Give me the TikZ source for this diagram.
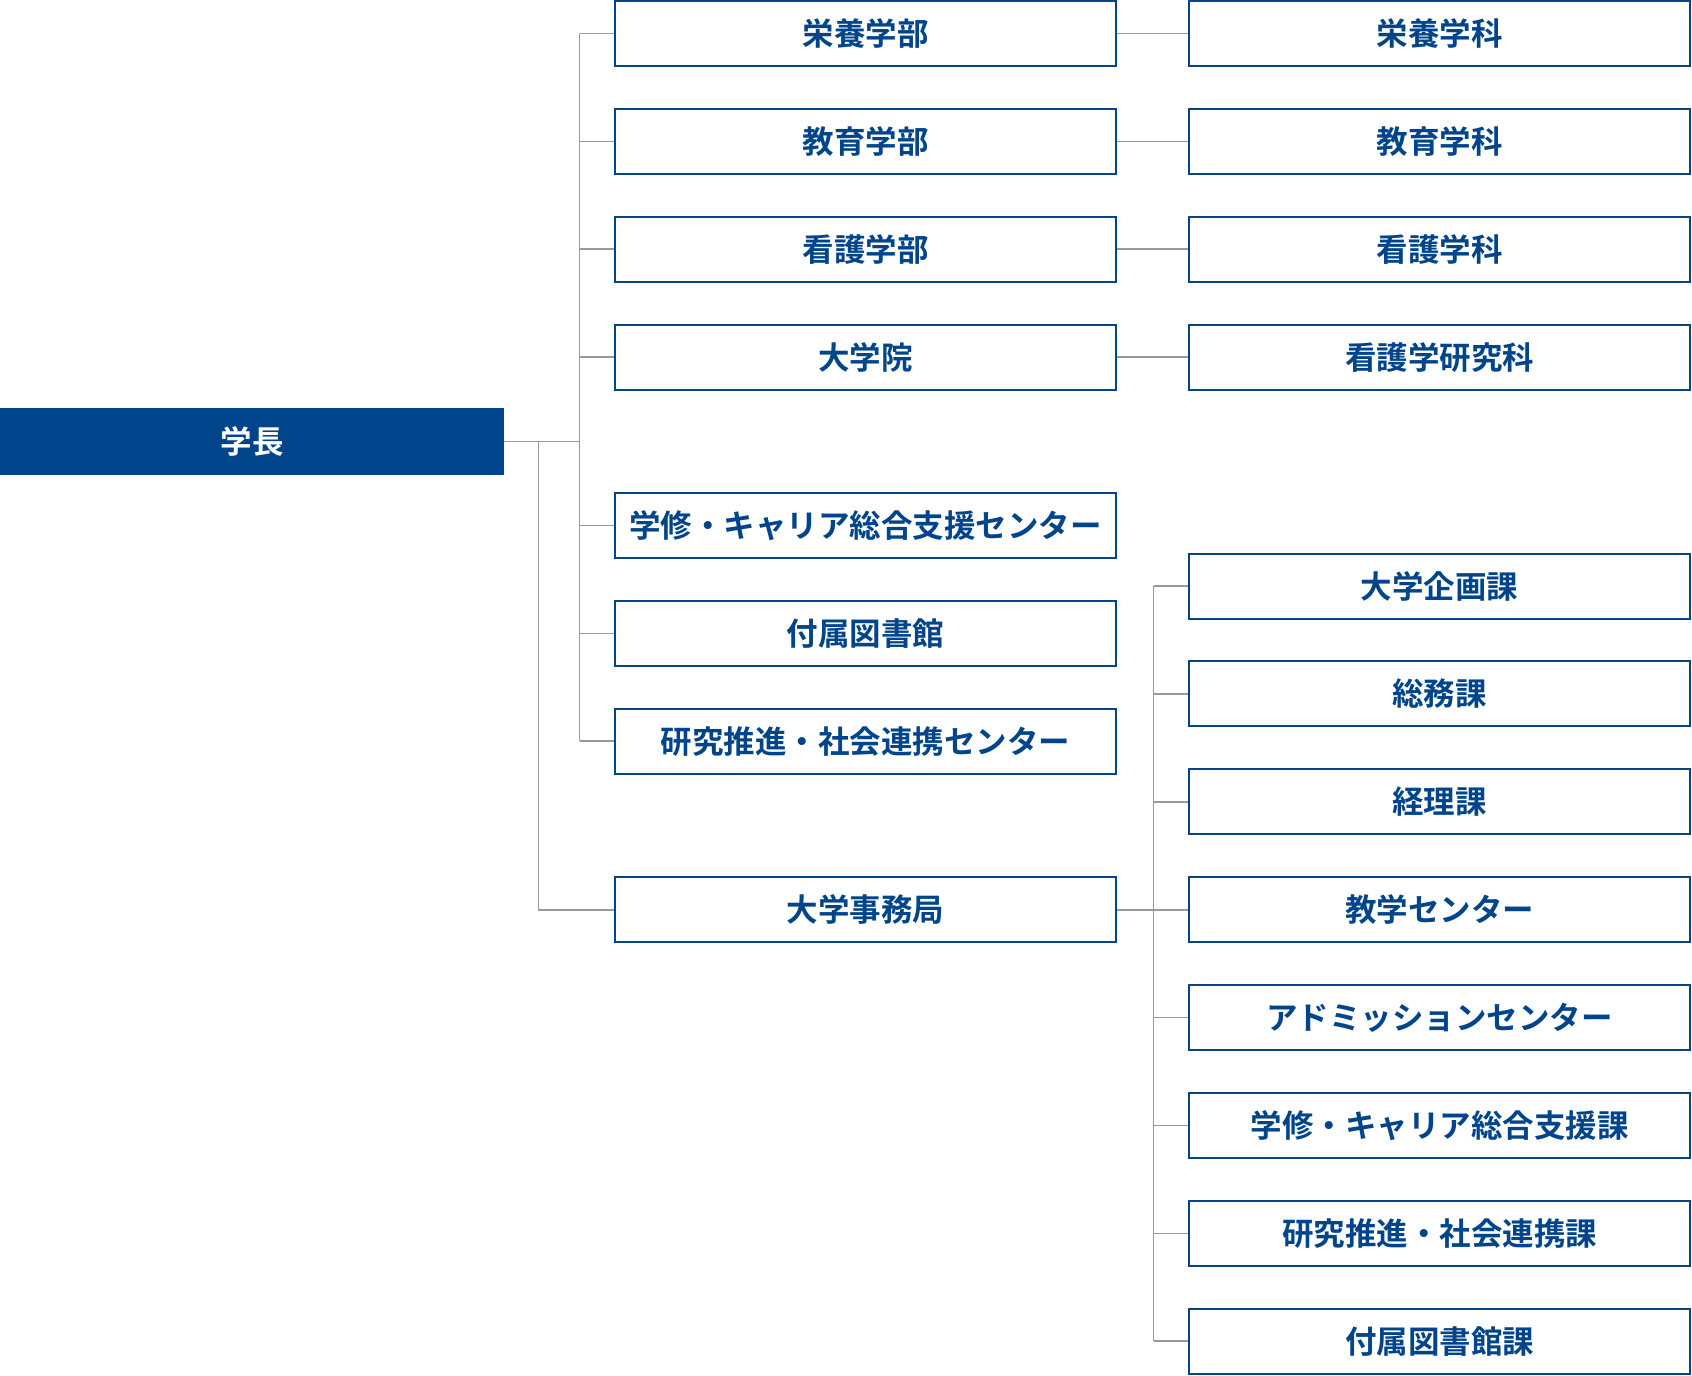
\documentclass[tikz,border=0pt]{standalone}
\usepackage{fontspec}
\setmainfont{Noto Sans CJK JP}[BoldFont={Noto Sans CJK JP Bold}]
\definecolor{navy}{HTML}{00458B}
\definecolor{linegray}{HTML}{999999}
\begin{document}
\begin{tikzpicture}[x=1pt,y=-1pt,
  unitbox/.style={draw=navy,line width=2pt,fill=white,minimum width=501pt,minimum height=65pt,
    inner sep=0pt,text=navy,font=\fontsize{31.5}{31.5}\selectfont\bfseries},
  headbox/.style={fill=navy,minimum width=504pt,minimum height=67pt,inner sep=0pt,
    text=white,font=\fontsize{31.5}{31.5}\selectfont\bfseries},
  conn/.style={draw=linegray,line width=1.7pt}]
\useasboundingbox (0,0) rectangle (1692,1376);
% head
\node[headbox] (head) at (252,441.5) {学長};
% column 1
\node[unitbox] (a1) at (865.5,33.5) {栄養学部};
\node[unitbox] (a2) at (865.5,141.4) {教育学部};
\node[unitbox] (a3) at (865.5,249.3) {看護学部};
\node[unitbox] (a4) at (865.5,357.2) {大学院};
\node[unitbox] (a5) at (865.5,525.5) {学修・キャリア総合支援センター};
\node[unitbox] (a6) at (865.5,633.4) {付属図書館};
\node[unitbox] (a7) at (865.5,741.3) {研究推進・社会連携センター};
\node[unitbox] (a8) at (865.5,909.7) {大学事務局};
% column 2 upper
\node[unitbox] (b1) at (1439.5,33.5) {栄養学科};
\node[unitbox] (b2) at (1439.5,141.4) {教育学科};
\node[unitbox] (b3) at (1439.5,249.3) {看護学科};
\node[unitbox] (b4) at (1439.5,357.2) {看護学研究科};
% column 2 lower
\node[unitbox] (c1) at (1439.5,586.0) {大学企画課};
\node[unitbox] (c2) at (1439.5,693.9) {総務課};
\node[unitbox] (c3) at (1439.5,801.8) {経理課};
\node[unitbox] (c4) at (1439.5,909.7) {教学センター};
\node[unitbox] (c5) at (1439.5,1017.6) {アドミッションセンター};
\node[unitbox] (c6) at (1439.5,1125.5) {学修・キャリア総合支援課};
\node[unitbox] (c7) at (1439.5,1233.4) {研究推進・社会連携課};
\node[unitbox] (c8) at (1439.5,1341.3) {付属図書館課};
% bus coordinates
\coordinate (busA) at (579.5,441.5);
\coordinate (busB) at (538.5,441.5);
\coordinate (busC) at (1153.5,909.7);
% connectors
\draw[conn] (head.east) -- (busA);
\draw[conn] (busA |- a1.west) -- (busA |- a7.west);
\foreach \n in {a1,a2,a3,a4,a5,a6,a7} \draw[conn] (busA |- \n.west) -- (\n.west);
\draw[conn] (busB) |- (a8.west);
\foreach \i in {1,2,3,4} \draw[conn] (a\i.east) -- (b\i.west);
\draw[conn] (a8.east) -- (c4.west);
\draw[conn] (busC |- c1.west) -- (busC |- c8.west);
\foreach \n in {c1,c2,c3,c5,c6,c7,c8} \draw[conn] (busC |- \n.west) -- (\n.west);
\end{tikzpicture}
\end{document}
